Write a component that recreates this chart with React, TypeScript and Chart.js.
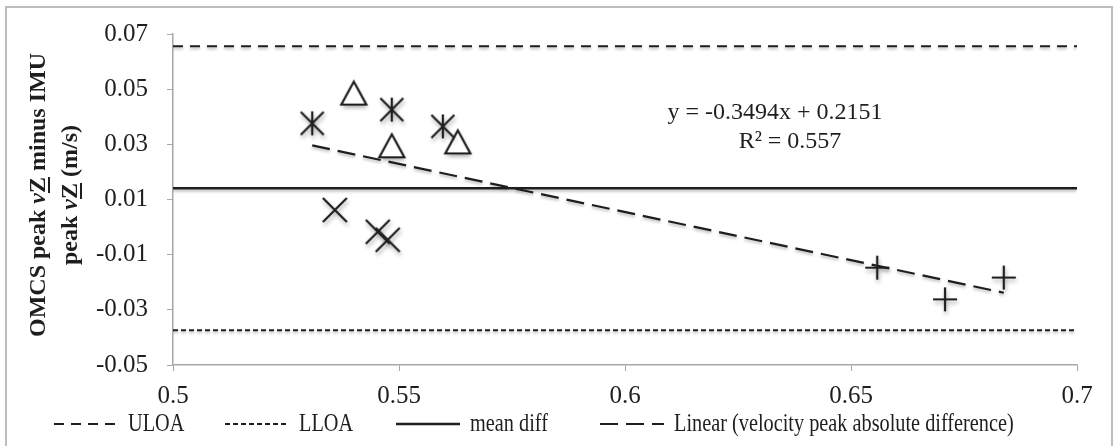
import React, { useEffect, useRef } from 'react';
import { Chart, registerables } from 'chart.js';

Chart.register(...registerables);

// ---------- data ----------
const xTicks = [0.5, 0.55, 0.6, 0.65, 0.7];
const xTickLabels = ['0.5', '0.55', '0.6', '0.65', '0.7'];
const yTicks = [-0.05, -0.03, -0.01, 0.01, 0.03, 0.05, 0.07];
const yTickLabels = ['-0.05', '-0.03', '-0.01', '0.01', '0.03', '0.05', '0.07'];

const asteriskX = [0.5308, 0.5484, 0.5597];
const asteriskY = [0.0376, 0.0426, 0.0365];
const triangleX = [0.54, 0.5484, 0.563];
const triangleY = [0.0484, 0.0293, 0.0307];
const crossX = [0.5358, 0.5453, 0.5475];
const crossY = [0.0062, -0.0017, -0.0046];
const plusX = [0.6558, 0.6708, 0.6838];
const plusY = [-0.0147, -0.0262, -0.0183];

const limitX = [0.5, 0.7];
const uloaY = [0.0656, 0.0656];
const lloaY = [-0.0374, -0.0374];
const meanDiffY = [0.0141, 0.0141];
const trendX = [0.5308, 0.6838];
const trendY = [0.0296, -0.0238];

const seriesLabels = ['ULOA', 'LLOA', 'mean diff', 'Linear (velocity peak absolute difference)'];
const equationLines = ['y = -0.3494x + 0.2151', 'R² = 0.557'];
const yTitleLine1 = ['OMCS peak ', 'v', 'Z', ' minus IMU'];
const yTitleLine2 = ['peak ', 'v', 'Z', ' (m/s)'];

// ---------- styles ----------
const SERIF = "'Liberation Serif', 'DejaVu Serif', serif";
const INK = '#1e1e1e';
const AXIS = '#a8a8a8';

const pts = (xs: number[], ys: number[]) => xs.map((x, i) => ({ x, y: ys[i] }));

function makeMarker(kind: string): HTMLCanvasElement {
  const c = document.createElement('canvas');
  c.width = 40;
  c.height = 40;
  const ctx = c.getContext('2d')!;
  ctx.translate(20, 20);
  ctx.shadowColor = 'rgba(0,0,0,0.35)';
  ctx.shadowBlur = 4;
  ctx.shadowOffsetX = 1;
  ctx.shadowOffsetY = 3;
  ctx.strokeStyle = INK;
  ctx.lineWidth = 2.2;
  ctx.beginPath();
  const r = 12;
  if (kind === 'asterisk') {
    ctx.moveTo(0, -r); ctx.lineTo(0, r);
    ctx.moveTo(-11.5, -11.5); ctx.lineTo(11.5, 11.5);
    ctx.moveTo(11.5, -11.5); ctx.lineTo(-11.5, 11.5);
    ctx.stroke();
  } else if (kind === 'cross') {
    ctx.moveTo(-r, -r); ctx.lineTo(r, r);
    ctx.moveTo(r, -r); ctx.lineTo(-r, r);
    ctx.stroke();
  } else if (kind === 'plus') {
    ctx.moveTo(-r, 0); ctx.lineTo(r, 0);
    ctx.moveTo(0, -r); ctx.lineTo(0, r);
    ctx.stroke();
  } else {
    ctx.moveTo(0, -12);
    ctx.lineTo(12.5, 11);
    ctx.lineTo(-12.5, 11);
    ctx.closePath();
    ctx.fillStyle = '#ffffff';
    ctx.fill();
    ctx.shadowColor = 'rgba(0,0,0,0)';
    ctx.lineJoin = 'miter';
    ctx.stroke();
  }
  return c;
}

const framePlugin = {
  id: 'frame',
  beforeDraw(chart: any) {
    const ctx = chart.ctx;
    ctx.save();
    ctx.fillStyle = '#ffffff';
    ctx.fillRect(0, 0, chart.width, chart.height);
    ctx.strokeStyle = '#bdbdbd';
    ctx.lineWidth = 2;
    ctx.strokeRect(6, 7, 1106, 470);
    ctx.restore();
  },
};

const lineShadowPlugin = {
  id: 'lineShadow',
  beforeDatasetDraw(chart: any, args: any) {
    if (args.index > 3) return;
    const ctx = chart.ctx;
    ctx.save();
    ctx.shadowColor = 'rgba(0,0,0,0.28)';
    ctx.shadowBlur = 3;
    ctx.shadowOffsetX = 0;
    ctx.shadowOffsetY = 2;
  },
  afterDatasetDraw(chart: any, args: any) {
    if (args.index > 3) return;
    chart.ctx.restore();
  },
};

const annotationPlugin = {
  id: 'annotations',
  afterDraw(chart: any) {
    const ctx = chart.ctx;
    ctx.save();
    // equation
    ctx.fillStyle = INK;
    ctx.font = `24px ${SERIF}`;
    ctx.textAlign = 'center';
    ctx.textBaseline = 'middle';
    ctx.fillText(equationLines[0], 775, 113);
    ctx.fillText(equationLines[1], 790, 142);

    // y-axis title with mixed styles
    const drawTitleLine = (parts: string[], cx: number, cy: number) => {
      const fonts = [
        `bold 24px ${SERIF}`,
        `italic bold 24px ${SERIF}`,
        `bold 24px ${SERIF}`,
        `bold 24px ${SERIF}`,
      ];
      let total = 0;
      const widths = parts.map((p, i) => {
        ctx.font = fonts[i];
        const w = ctx.measureText(p).width;
        total += w;
        return w;
      });
      ctx.save();
      ctx.translate(cx, cy);
      ctx.rotate(-Math.PI / 2);
      ctx.textAlign = 'left';
      ctx.textBaseline = 'alphabetic';
      let x = -total / 2;
      parts.forEach((p, i) => {
        ctx.font = fonts[i];
        ctx.fillText(p, x, 8);
        if (i === 2) {
          ctx.fillRect(x, 11, widths[i], 2);
        }
        x += widths[i];
      });
      ctx.restore();
    };
    ctx.fillStyle = INK;
    drawTitleLine(yTitleLine1, 37, 195);
    drawTitleLine(yTitleLine2, 69, 195);

    // legend
    const legendX = [54, 225, 396, 600];
    const legendY = 424;
    chart.data.datasets.slice(0, 4).forEach((ds: any, i: number) => {
      const x0 = legendX[i];
      ctx.save();
      ctx.strokeStyle = ds.borderColor;
      ctx.lineWidth = ds.borderWidth;
      ctx.setLineDash(ds.borderDash || []);
      ctx.beginPath();
      ctx.moveTo(x0, legendY);
      ctx.lineTo(x0 + 64, legendY);
      ctx.stroke();
      ctx.restore();
      ctx.save();
      ctx.translate(x0 + 74, legendY);
      ctx.scale(0.78, 1);
      ctx.font = `26px ${SERIF}`;
      ctx.fillStyle = INK;
      ctx.textAlign = 'left';
      ctx.textBaseline = 'middle';
      ctx.fillText(ds.label, 0, 0);
      ctx.restore();
    });
    ctx.restore();
  },
};

export default function App() {
  const canvasRef = useRef<HTMLCanvasElement | null>(null);

  useEffect(() => {
    if (!canvasRef.current) return;
    const markers = {
      asterisk: makeMarker('asterisk'),
      triangle: makeMarker('triangle'),
      cross: makeMarker('cross'),
      plus: makeMarker('plus'),
    };
    const lineDs = (label: string, xs: number[], ys: number[], dash: number[], width: number) => ({
      label,
      data: pts(xs, ys),
      showLine: true,
      borderColor: INK,
      backgroundColor: INK,
      borderWidth: width,
      borderDash: dash,
      pointRadius: 0,
      order: 1,
    });
    const markerDs = (label: string, xs: number[], ys: number[], style: HTMLCanvasElement) => ({
      label,
      data: pts(xs, ys),
      showLine: false,
      pointStyle: style,
      pointRadius: 12,
      order: 0,
    });

    const chart = new Chart(canvasRef.current, {
      type: 'scatter',
      data: {
        datasets: [
          lineDs(seriesLabels[0], limitX, uloaY, [10, 7], 2),
          lineDs(seriesLabels[1], limitX, lloaY, [5, 3], 2),
          lineDs(seriesLabels[2], limitX, meanDiffY, [], 2.6),
          lineDs(seriesLabels[3], trendX, trendY, [18, 8], 2.2),
          markerDs('asterisk', asteriskX, asteriskY, markers.asterisk),
          markerDs('triangle', triangleX, triangleY, markers.triangle),
          markerDs('cross', crossX, crossY, markers.cross),
          markerDs('plus', plusX, plusY, markers.plus),
        ] as any,
      },
      options: {
        animation: false,
        responsive: false,
        devicePixelRatio: 1,
        layout: { padding: { left: 0, right: 37, top: 33, bottom: 0 } },
        plugins: {
          legend: { display: false },
          tooltip: { enabled: false },
          title: { display: false },
        },
        scales: {
          x: {
            type: 'linear',
            min: 0.5,
            max: 0.7,
            afterBuildTicks: (scale: any) => {
              scale.ticks = xTicks.map((v) => ({ value: v }));
            },
            afterFit: (scale: any) => {
              scale.height = 446 - 365;
            },
            ticks: {
              padding: 10,
              color: INK,
              font: { family: SERIF, size: 25 },
              maxRotation: 0,
              callback: (v: any) => xTickLabels[xTicks.indexOf(Number(v))] ?? '',
            },
            grid: {
              display: true,
              drawOnChartArea: false,
              drawTicks: true,
              tickLength: 6,
              color: AXIS,
            },
            border: { display: true, color: AXIS, width: 1.5 },
          },
          y: {
            type: 'linear',
            min: -0.05,
            max: 0.07,
            afterBuildTicks: (scale: any) => {
              scale.ticks = yTicks.map((v) => ({ value: v }));
            },
            afterFit: (scale: any) => {
              scale.width = 173;
            },
            ticks: {
              padding: 19,
              color: INK,
              font: { family: SERIF, size: 25 },
              callback: (v: any) => {
                const i = yTicks.findIndex((t) => Math.abs(t - Number(v)) < 1e-9);
                return i >= 0 ? yTickLabels[i] : '';
              },
            },
            grid: {
              display: true,
              drawOnChartArea: false,
              drawTicks: true,
              tickLength: 6,
              color: AXIS,
            },
            border: { display: true, color: AXIS, width: 1.5 },
          },
        },
      } as any,
      plugins: [framePlugin, lineShadowPlugin, annotationPlugin],
    });
    return () => chart.destroy();
  }, []);

  return (
    <div
      style={{
        position: 'fixed',
        left: 0,
        top: 0,
        width: 1114,
        height: 446,
        background: '#ffffff',
      }}
    >
      <canvas ref={canvasRef} width={1114} height={446} style={{ display: 'block' }} />
    </div>
  );
}
